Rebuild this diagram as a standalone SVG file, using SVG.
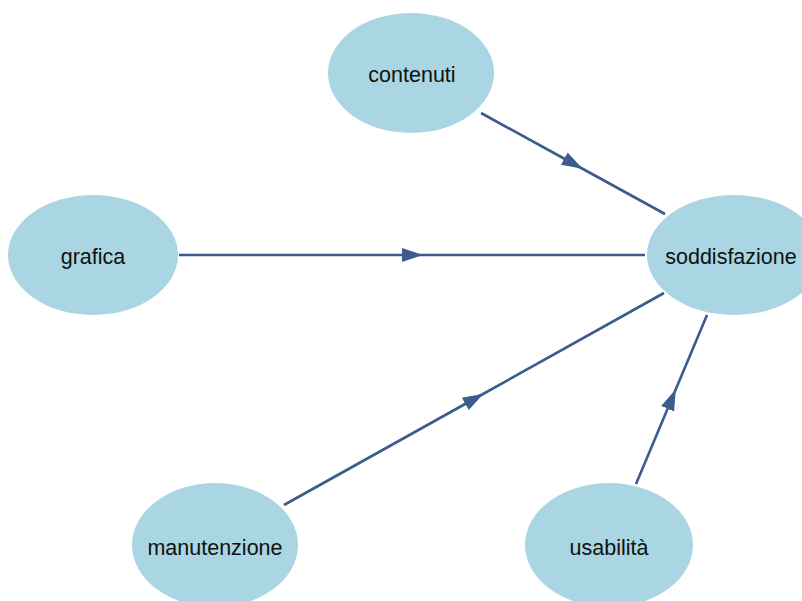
<svg xmlns="http://www.w3.org/2000/svg" width="802" height="601" viewBox="0 0 802 601">
  <style>
    .node ellipse { fill: #a9d6e2; stroke: none; }
    .node text { font-family: "Liberation Sans", Arial, sans-serif; font-size: 21.5px; fill: #111; text-anchor: middle; dominant-baseline: central; }
    .edge { fill: none; stroke: #3b5c8c; stroke-width: 2.6; marker-mid: url(#arrow); }
  </style>
  <defs>
    <marker id="arrow" markerUnits="userSpaceOnUse" markerWidth="22" markerHeight="16" refX="10" refY="8" orient="auto">
      <path d="M0,1 L21,8 L0,15 Z" fill="#3b5c8c"/>
    </marker>
  </defs>
  <rect width="802" height="601" fill="#ffffff"/>

  <g id="connectors">
    <polyline class="edge" points="481,113 573,163.5 665,214"/>
    <polyline class="edge" points="179,255 412,255 645,255"/>
    <polyline class="edge" points="284,505 474,399 664,293"/>
    <polyline class="edge" points="636,484 671.5,399.5 707,315"/>
  </g>

  <g id="contenuti" class="node">
    <ellipse cx="411" cy="73" rx="83" ry="60"/>
    <text x="412" y="75">contenuti</text>
  </g>
  <g id="grafica" class="node">
    <ellipse cx="93" cy="255" rx="85" ry="60"/>
    <text x="93" y="257">grafica</text>
  </g>
  <g id="soddisfazione" class="node">
    <ellipse cx="734" cy="255" rx="87" ry="60"/>
    <text x="731" y="257">soddisfazione</text>
  </g>
  <g id="manutenzione" class="node">
    <ellipse cx="215" cy="545" rx="83" ry="62"/>
    <text x="215" y="548">manutenzione</text>
  </g>
  <g id="usabilita" class="node">
    <ellipse cx="609" cy="545" rx="84" ry="62"/>
    <text x="609" y="548">usabilità</text>
  </g>
</svg>
